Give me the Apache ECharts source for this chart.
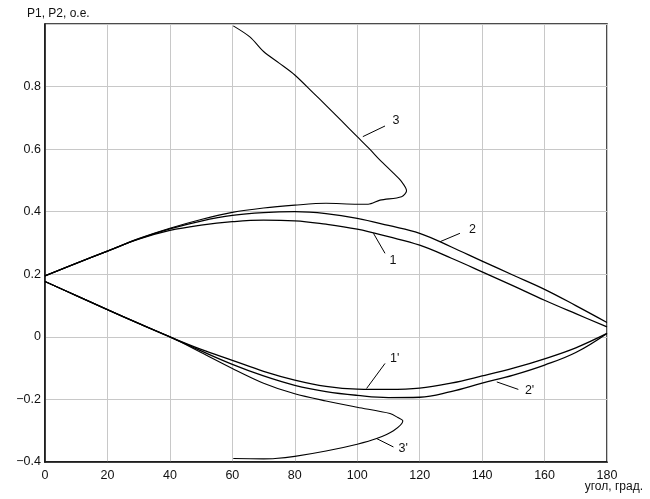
<!DOCTYPE html>
<html><head><meta charset="utf-8">
<script src="https://cdn.jsdelivr.net/npm/echarts@6/dist/echarts.min.js"></script>
<style>html,body{margin:0;padding:0;background:#fff}#c{width:650px;height:499px}</style>
</head><body><div id="c"></div>
<script>
// Axis ticks
var xTicks = [0,20,40,60,80,100,120,140,160,180];
var yTicks = [-0.4,-0.2,0,0.2,0.4,0.6,0.8];

// Curves as [angle, value] pairs
var curve1 = [[0,0.195],[10,0.235],[20,0.274],[30,0.312],[40,0.340],[50,0.357],[60,0.368],[70,0.373],[80,0.371],[90,0.360],[100,0.344],[110,0.320],[120,0.293],[130,0.252],[140,0.208],[150,0.163],[160,0.117],[170,0.074],[180,0.032]];
var curve2 = [[0,0.195],[10,0.235],[20,0.274],[30,0.313],[40,0.345],[50,0.370],[60,0.388],[70,0.397],[80,0.400],[90,0.394],[100,0.379],[110,0.356],[120,0.331],[130,0.288],[140,0.242],[150,0.197],[160,0.152],[170,0.100],[180,0.046]];
var curve3 = [[60.3,0.994],[65.7,0.958],[70,0.912],[75,0.875],[80,0.837],[86,0.779],[90,0.740],[95,0.690],[100,0.640],[104,0.600],[107.3,0.565],[111.6,0.523],[114.2,0.496],[115.8,0.467],[114.2,0.448],[107.3,0.437],[103.5,0.424],[100,0.424],[90,0.427],[80,0.421],[70,0.412],[60,0.398],[50,0.375],[40,0.347],[30,0.314],[20,0.274],[10,0.235],[0,0.195]];
var curve1p = [[0,0.177],[10,0.132],[20,0.087],[30,0.043],[40,0.0],[50,-0.040],[60,-0.075],[70,-0.110],[80,-0.138],[90,-0.158],[100,-0.167],[110,-0.168],[120,-0.164],[130,-0.148],[140,-0.125],[150,-0.100],[160,-0.070],[170,-0.035],[180,0.011]];
var curve2p = [[0,0.177],[10,0.132],[20,0.087],[30,0.043],[40,0.0],[50,-0.045],[60,-0.088],[70,-0.125],[80,-0.155],[90,-0.175],[100,-0.187],[110,-0.194],[120,-0.193],[130,-0.175],[140,-0.148],[150,-0.122],[160,-0.090],[170,-0.050],[180,0.011]];
var curve3p = [[60.3,-0.389],[70,-0.390],[73.7,-0.389],[80,-0.382],[90,-0.365],[100,-0.343],[106.2,-0.325],[111.6,-0.300],[114.6,-0.269],[113,-0.258],[110.5,-0.245],[100,-0.225],[90,-0.205],[80,-0.182],[70,-0.148],[60,-0.101],[50,-0.050],[40,0.0],[30,0.043],[20,0.087],[10,0.132],[0,0.177]];

// Curve labels: text, leader start (on curve), leader end, text anchor (data coords)
var labelNames = ['3','2','1',"1'","2'","3'"];
var leaderFrom = [[101.8,0.640],[126.5,0.304],[105.2,0.331],[103.0,-0.165],[144.7,-0.144],[106.2,-0.325]];
var leaderTo   = [[108.9,0.674],[132.9,0.331],[108.9,0.267],[108.9,-0.085],[151.6,-0.168],[111.6,-0.352]];
var textAt     = [[111.3,0.692],[135.8,0.344],[110.3,0.245],[110.5,-0.069],[153.7,-0.171],[113.2,-0.357]];

var FONT = 'Liberation Sans, Arial, sans-serif';
var chart = echarts.init(document.getElementById('c'), null, {renderer:'canvas'});
function ser(d, w, s){ return {type:'line', data:d, showSymbol:false, symbol:'none', smooth:s, animation:false,
  lineStyle:{color:'#000', width:w}}; }
chart.setOption({
  animation:false,
  backgroundColor:'#fff',
  grid:{left:45, right:43, top:24, bottom:37, show:true, borderColor:'#111', borderWidth:1.5},
  xAxis:{type:'value', min:0, max:180, interval:20,
    axisLine:{show:true, onZero:false, lineStyle:{color:'#111', width:1.5}}, axisTick:{show:false},
    splitLine:{show:true, lineStyle:{color:'#c8c8c8', width:1}},
    axisLabel:{color:'#111', fontFamily:FONT, fontSize:12.5, margin:7,
      formatter:function(v){ return xTicks.indexOf(v)>=0 ? String(v) : ''; }}},
  yAxis:{type:'value', min:-0.4, max:1.0, interval:0.2,
    axisLine:{show:true, onZero:false, lineStyle:{color:'#111', width:1.5}}, axisTick:{show:false},
    splitLine:{show:true, lineStyle:{color:'#c8c8c8', width:1}},
    axisLabel:{color:'#111', fontFamily:FONT, fontSize:12.5, margin:4,
      formatter:function(v){ var r = +(+v).toFixed(1);
        for (var i=0;i<yTicks.length;i++){ if (Math.abs(yTicks[i]-r)<1e-9) return String(r).replace('-','\u2212'); }
        return ''; }}},
  series:[ser(curve1,1.3,0.4), ser(curve2,1.3,0.4), ser(curve3,1.1,0.3), ser(curve1p,1.3,0.4), ser(curve2p,1.3,0.4), ser(curve3p,1.1,0.3)]
});
var g = [];
for (var i=0;i<labelNames.length;i++){
  var a = chart.convertToPixel({gridIndex:0}, leaderFrom[i]);
  var b = chart.convertToPixel({gridIndex:0}, leaderTo[i]);
  var t = chart.convertToPixel({gridIndex:0}, textAt[i]);
  g.push({type:'line', shape:{x1:a[0],y1:a[1],x2:b[0],y2:b[1]}, style:{stroke:'#000', lineWidth:1}});
  g.push({type:'text', x:t[0], y:t[1], style:{text:labelNames[i], fill:'#111', font:'12.5px '+FONT, textAlign:'left', textVerticalAlign:'middle'}});
}
g.push({type:'text', left:27, top:8, style:{text:'P1, P2, о.е.', fill:'#111', font:'12px '+FONT}});
g.push({type:'text', right:7, top:481, style:{text:'угол, град.', fill:'#111', font:'12px '+FONT}});
chart.setOption({graphic:g});
</script></body></html>
